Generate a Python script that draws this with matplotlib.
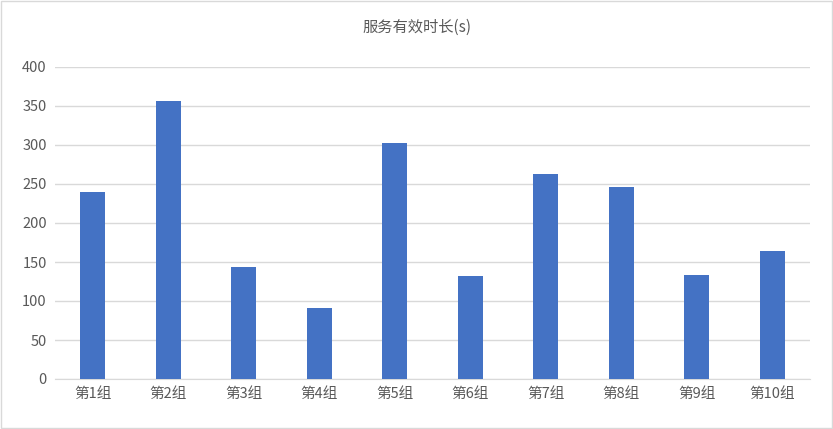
import matplotlib
matplotlib.use('Agg')
import matplotlib.pyplot as plt

plt.rcParams['font.family'] = ['Noto Sans CJK SC', 'DejaVu Sans']

categories = ['第1组','第2组','第3组','第4组','第5组','第6组','第7组','第8组','第9组','第10组']
values = [240, 357, 144, 91, 303, 132, 263, 246, 133, 164]
yticks = [0, 50, 100, 150, 200, 250, 300, 350, 400]

fig = plt.figure(figsize=(8.33, 4.29), dpi=100)
ax = fig.add_axes([55/833, 1-379/429, 755/833, 312/429])
ax.bar(range(len(categories)), values, width=0.33, color='#4472C4', zorder=3)
ax.set_xlim(-0.5, len(categories)-0.5)
ax.set_ylim(0, 400)
ax.set_yticks(yticks)
ax.set_xticks(range(len(categories)))
ax.set_xticklabels(categories)
ax.grid(axis='y', color='#D9D9D9', linewidth=1, zorder=0)
for s in ['top', 'right', 'left']:
    ax.spines[s].set_visible(False)
ax.spines['bottom'].set_color('#D9D9D9')
ax.tick_params(length=0, labelsize=10.5, colors='#595959', pad=6)
fig.text(0.5, 1-27/429, '服务有效时长(s)', ha='center', va='center', fontsize=11, color='#595959')
fig.patches.append(plt.Rectangle((0.001, 0.002), 0.998, 0.996, transform=fig.transFigure,
                                 fill=False, edgecolor='#D9D9D9', linewidth=1))
fig.savefig('out.png', dpi=100)
